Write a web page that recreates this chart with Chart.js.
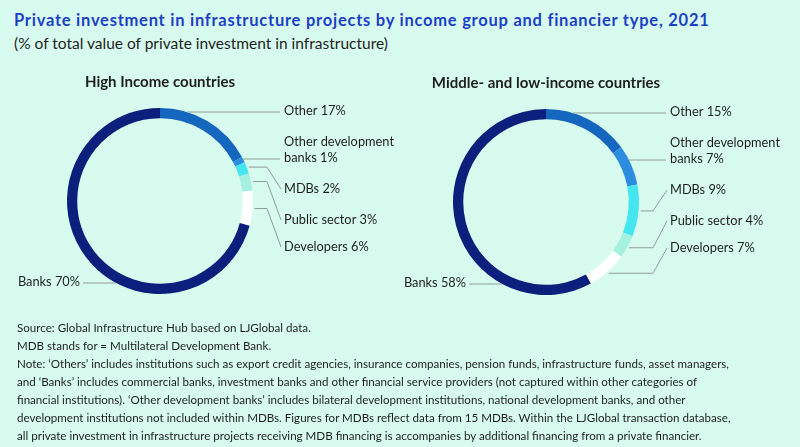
<!DOCTYPE html>
<html>
<head>
<meta charset="utf-8">
<script src="https://cdn.jsdelivr.net/npm/chart.js@4.4.1/dist/chart.umd.min.js"></script>
<style>
  html, body {
    margin: 0;
    padding: 0;
  }
  body {
    width: 800px;
    height: 447px;
    background: #d8fbef;
    position: relative;
    overflow: hidden;
    font-family: Lato, "Open Sans", sans-serif;
    color: #1e1e1e;
  }
  .title {
    position: absolute;
    left: 14px;
    top: 10px;
    font-size: 16.5px;
    letter-spacing: 0.75px;
    font-weight: bold;
    color: #1b3fc6;
    white-space: nowrap;
  }
  .subtitle {
    position: absolute;
    left: 14px;
    top: 34px;
    font-size: 15.5px;
    white-space: nowrap;
  }
  .chart-box {
    position: absolute;
    top: 60px;
    width: 400px;
    height: 260px;
  }
  #notes {
    position: absolute;
    left: 17px;
    top: 319px;
    font-size: 11.6px;
    line-height: 18px;
    white-space: nowrap;
  }
</style>
</head>
<body>
<div class="title">Private investment in infrastructure projects by income group and financier type, 2021</div>
<div class="subtitle">(% of total value of private investment in infrastructure)</div>

<div class="chart-box" style="left: 0px;"><canvas id="high-income"></canvas></div>
<div class="chart-box" style="left: 400px;"><canvas id="middle-low-income"></canvas></div>

<div id="notes">
  <div>Source: Global Infrastructure Hub based on LJGlobal data.</div>
  <div>MDB stands for = Multilateral Development Bank.</div>
  <div>Note: ‘Others’ includes institutions such as export credit agencies, insurance companies, pension funds, infrastructure funds, asset managers,</div>
  <div>and ‘Banks’ includes commercial banks, investment banks and other financial service providers (not captured within other categories of</div>
  <div>financial institutions). ‘Other development banks’ includes bilateral development institutions, national development banks, and other</div>
  <div>development institutions not included within MDBs. Figures for MDBs reflect data from 15 MDBs. Within the LJGlobal transaction database,</div>
  <div>all private investment in infrastructure projects receiving MDB financing is accompanies by additional financing from a private financier.</div>
</div>

<script>
const categories = ["Other", "Other development banks", "MDBs", "Public sector", "Developers", "Banks"];
const highIncomeValues = [17, 1, 2, 3, 6, 70];
const middleLowIncomeValues = [15, 7, 9, 4, 7, 58];

const sliceColors = ["#1466be", "#2b8ce0", "#45e6f0", "#a6f0e0", "#ffffff", "#0b1f7c"];

// vertical offset of each label from the doughnut centre, and how its leader line is drawn
const labelOffsets = [-90, -51, -12, 19, 46, 81];
const leaderModes = ["h", "h", "mid", "mid", "mid", "h"];

function labelLines(category, value) {
  const text = category + " " + value + "%";
  if (category === "Other development banks") {
    return ["Other development", "banks " + value + "%"];
  }
  return [text];
}

const leaderLabels = {
  id: "leaderLabels",
  afterDatasetsDraw(chart, args, opts) {
    const { ctx } = chart;
    const meta = chart.getDatasetMeta(0);
    const values = chart.data.datasets[0].data;
    const first = meta.data[0];
    const cx = first.x;
    const cy = first.y;
    const R = first.outerRadius;

    ctx.save();
    // heading above the ring
    ctx.font = "bold 15px Lato, 'Open Sans', sans-serif";
    ctx.fillStyle = "#1e1e1e";
    ctx.textAlign = "center";
    ctx.textBaseline = "middle";
    ctx.fillText(opts.heading, cx, cy - R - 26);

    ctx.font = "12.8px Lato, 'Open Sans', sans-serif";
    ctx.strokeStyle = "#8e9c98";
    ctx.lineWidth = 1;

    const labelX = cx + 124;
    const elbowX = cx + 107;
    const leftLabelX = cx - 80;

    meta.data.forEach((arc, i) => {
      const lines = labelLines(chart.data.labels[i], values[i]);
      const ly = cy + labelOffsets[i];
      const lineH = 16;
      const onLeft = i === meta.data.length - 1;

      // text
      ctx.fillStyle = "#1e1e1e";
      ctx.textAlign = onLeft ? "right" : "left";
      const tx = onLeft ? leftLabelX : labelX;
      const y0 = ly - (lines.length - 1) * lineH / 2;
      lines.forEach((t, k) => ctx.fillText(t, tx, y0 + k * lineH));

      // leader line
      ctx.beginPath();
      if (leaderModes[i] === "h") {
        const yLine = y0 + (lines.length - 1) * lineH + 1;
        const dy = yLine - cy;
        const dx = Math.sqrt(Math.max(R * R - dy * dy, 0));
        if (onLeft) {
          ctx.moveTo(cx - dx, yLine);
          ctx.lineTo(leftLabelX + 3, yLine);
        } else {
          ctx.moveTo(cx + dx, yLine);
          ctx.lineTo(labelX - 4, yLine);
        }
      } else {
        const a = (arc.startAngle + arc.endAngle) / 2;
        const ax = cx + Math.cos(a) * (R + 2);
        const ay = cy + Math.sin(a) * (R + 2);
        ctx.moveTo(ax, ay);
        ctx.lineTo(elbowX, ay);
        ctx.lineTo(labelX - 3, ly);
      }
      ctx.stroke();
    });
    ctx.restore();
  }
};

function makeDoughnut(canvasId, values, heading, padding) {
  return new Chart(document.getElementById(canvasId), {
    type: "doughnut",
    data: {
      labels: categories,
      datasets: [
        {
          data: values,
          backgroundColor: sliceColors,
          borderWidth: 0,
        },
      ],
    },
    options: {
      responsive: true,
      maintainAspectRatio: false,
      animation: false,
      cutout: "89%",
      layout: { padding: padding },
      plugins: {
        legend: { display: false },
        tooltip: { enabled: false },
        leaderLabels: { heading: heading },
      },
    },
    plugins: [leaderLabels],
  });
}

makeDoughnut("high-income", highIncomeValues, "High Income countries",
  { left: 67, right: 147, top: 48, bottom: 26 });
makeDoughnut("middle-low-income", middleLowIncomeValues, "Middle- and low-income countries",
  { left: 53, right: 161, top: 49, bottom: 25 });
</script>
</body>
</html>
